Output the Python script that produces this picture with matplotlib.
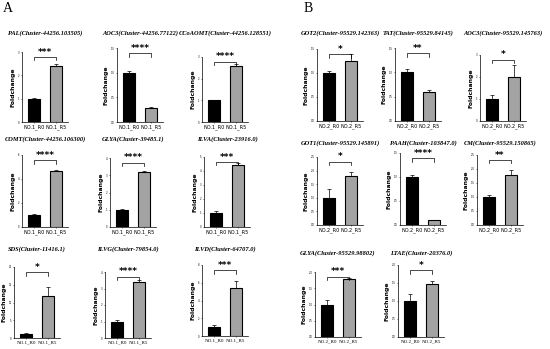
import matplotlib
matplotlib.use("Agg")
import matplotlib.pyplot as plt

W, H = 550, 349
fig = plt.figure(figsize=(W / 100, H / 100), dpi=100)

# ---- data ----
titles = [
    "PAL(Cluster-44256.103505)", "AOC3(Cluster-44256.77122)", "CCoAOMT(Cluster-44256.128551)",
    "COMT(Cluster-44256.106300)", "GLYA(Cluster-39485.1)", "ILVA(Cluster-23916.0)",
    "SDS(Cluster-11416.1)", "ILVG(Cluster-79854.0)", "ILVD(Cluster-64707.0)",
    "GOT2(Cluster-95529.142363)", "TAT(Cluster-95529.84145)", "AOC3(Cluster-95529.145763)",
    "GOT1(Cluster-95529.145891)", "PAAH(Cluster-103847.0)", "CM(Cluster-95529.150865)",
    "GLYA(Cluster-95529.98802)", "LTAE(Cluster-20376.0)",
]
r0_values = [1.0, 1.0, 1.0, 1.0, 1.0, 1.0, 1.0, 1.0, 1.0,
             1.0, 1.0, 1.0, 1.0, 1.0, 1.0, 1.0, 1.0]
r5_values = [2.4, 0.29, 2.6, 4.65, 3.2, 4.4, 11.8, 3.4, 5.4,
             1.25, 0.6, 2.0, 1.81, 0.1, 1.78, 1.78, 1.47]
r0_err = [0.05, 0.03, 0.02, 0.05, 0.05, 0.15, 0.3, 0.1, 0.2,
          0.05, 0.07, 0.2, 0.33, 0.05, 0.07, 0.14, 0.19]
r5_err = [0.1, 0.02, 0.1, 0.1, 0.05, 0.15, 2.6, 0.1, 0.75,
          0.14, 0.04, 0.55, 0.15, 0.01, 0.2, 0.03, 0.09]
y_max = [3, 1.5, 3, 6, 4, 5, 20, 4, 8,
         1.5, 1.5, 3, 2.5, 1.5, 2.5, 2.0, 2.0]
y_step = [1, 0.5, 1, 2, 1, 1, 5, 1, 2,
          0.5, 0.5, 1, 0.5, 0.5, 0.5, 0.5, 0.5]
stars = ["***", "****", "****", "****", "****", "***", "*", "****", "***",
         "*", "**", "*", "*", "****", "**", "***", "*"]
groups = ["NO.1"] * 9 + ["NO.2"] * 8
serif_ticks = [False] * 6 + [True] * 3 + [False] * 6 + [True] * 2

# ---- layout (pixels): left, top, bottom, title_y ----
layout = [
    (22, 52, 122, 33), (117, 48, 122, 33), (202, 57, 122, 33),
    (22, 155, 227, 139), (110, 158, 227, 139), (204, 157, 227, 139),
    (14, 267, 338, 249), (105, 272, 338, 249), (202, 265, 336, 249),
    (317, 49, 121, 33), (395, 48, 121, 33), (480, 55, 121, 33),
    (317, 157, 225, 143), (400, 153, 225, 143), (477, 155, 225, 143),
    (315, 272, 337, 253), (398, 265, 337, 253),
]
AX_W = 46

for i, t in enumerate(titles):
    left, top, bottom, ty = layout[i]
    ax = fig.add_axes([left / W, 1 - bottom / H, AX_W / W, (bottom - top) / H])
    x = [0, 1]
    ax.bar(x, [r0_values[i], r5_values[i]], width=0.55,
           color=["black", "#a3a3a3"], edgecolor="black", linewidth=0.8, zorder=2)
    ax.errorbar(x, [r0_values[i], r5_values[i]], yerr=[[0, 0], [r0_err[i], r5_err[i]]],
                fmt="none", ecolor="black", elinewidth=0.5, capsize=1.5, capthick=0.5, zorder=3)
    ym = y_max[i]
    ax.set_ylim(0, ym)
    ax.set_xlim(-0.55, 1.55)
    n = int(round(ym / y_step[i]))
    ax.set_yticks([k * y_step[i] for k in range(n + 1)])
    ax.tick_params(axis="y", labelsize=1.8, length=1, width=0.4, pad=0.8)
    ax.tick_params(axis="x", length=1, width=0.4, pad=0.8)
    for s in ["top", "right"]:
        ax.spines[s].set_visible(False)
    for s in ["left", "bottom"]:
        ax.spines[s].set_linewidth(0.5)
    g = groups[i]
    ax.set_xticks(x)
    if serif_ticks[i]:
        ax.set_xticklabels([g + "_R0", g + "_R5"], fontsize=3.6, family="Liberation Serif")
    else:
        ax.set_xticklabels([g + "_R0", g + "_R5"], fontsize=3.6, family="DejaVu Sans")
    ax.set_ylabel("Foldchange", fontsize=4.4, fontweight="bold", labelpad=1.5)
    # significance bracket
    yb = ym * 0.93
    h = ym * 0.05
    ax.plot([0, 0, 1, 1], [yb - h, yb, yb, yb - h], color="black", lw=0.5, clip_on=False)
    ax.text(0.5, yb + ym * 0.005, stars[i], ha="center", va="bottom",
            fontsize=6.5, fontweight="bold", clip_on=False)
    fig.text((left + AX_W / 2) / W, 1 - ty / H, t, ha="center", va="center",
             fontsize=4.6, family="Liberation Serif", style="italic", fontweight="bold")

fig.text(8 / W, 1 - 9 / H, "A", fontsize=10, family="Liberation Serif", ha="center", va="center")
fig.text(308 / W, 1 - 9 / H, "B", fontsize=10, family="Liberation Serif", ha="center", va="center")

fig.savefig("out.png", dpi=100, facecolor="white")
